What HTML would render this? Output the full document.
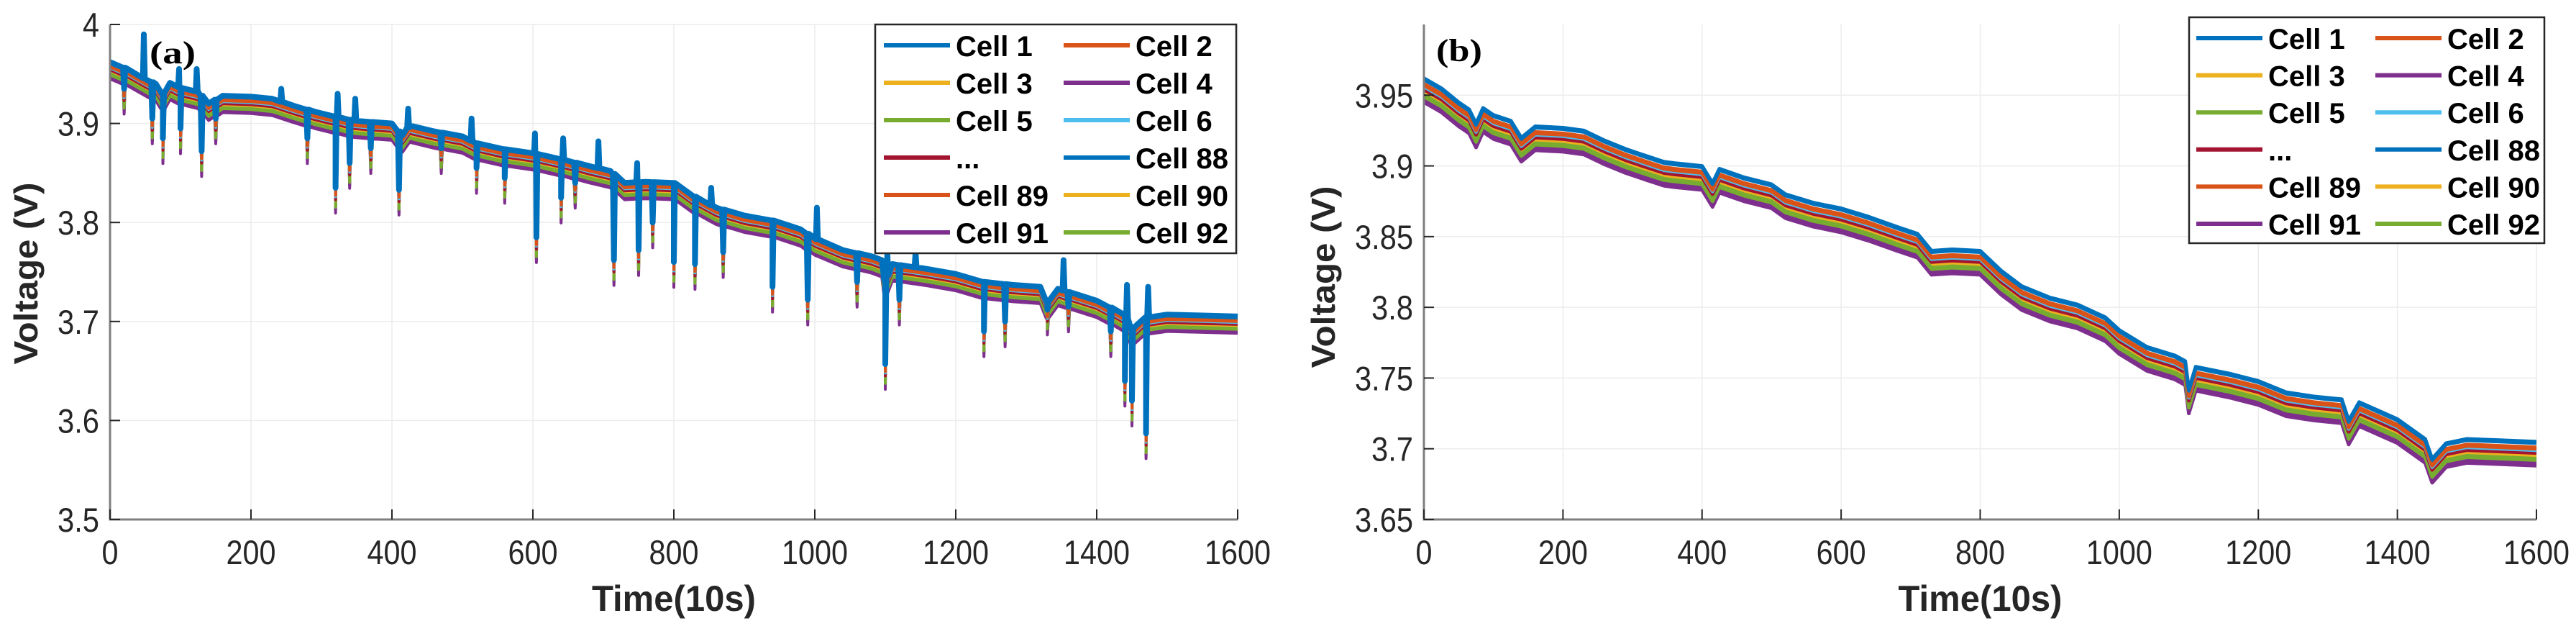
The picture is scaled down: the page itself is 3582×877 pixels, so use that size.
<!DOCTYPE html>
<html><head><meta charset="utf-8"><style>
html,body{margin:0;padding:0;background:#fff;width:3582px;height:877px;overflow:hidden}
svg text{font-family:"Liberation Sans",sans-serif}
</style></head><body>
<svg id="fig" width="3582" height="877" viewBox="0 0 3582 877" xmlns="http://www.w3.org/2000/svg"></svg>
<script>
// ---- data ----
const knotT = [0,25,50,65,75,85,100,125,140,160,200,230,260,290,320,345,360,400,415,425,460,500,520,560,600,640,680,710,730,760,800,830,860,900,940,980,1000,1040,1080,1095,1100,1110,1160,1200,1240,1280,1320,1330,1345,1400,1440,1450,1470,1500,1550,1600];
const knotV = [3.962,3.955,3.945,3.940,3.930,3.941,3.936,3.932,3.920,3.928,3.927,3.925,3.918,3.912,3.907,3.903,3.902,3.900,3.888,3.898,3.892,3.887,3.880,3.874,3.870,3.864,3.857,3.852,3.840,3.841,3.840,3.826,3.815,3.807,3.802,3.793,3.784,3.772,3.766,3.762,3.742,3.758,3.753,3.748,3.740,3.737,3.735,3.720,3.733,3.721,3.707,3.693,3.704,3.707,3.706,3.705];
const cellNames = ["Cell 1","Cell 2","Cell 3","Cell 4","Cell 5","Cell 6","...","Cell 88","Cell 89","Cell 90","Cell 91","Cell 92"];
const cellColors = ["#0072BD","#D95319","#EDB120","#7E2F8E","#77AC30","#4DBEEE","#A2142F","#0072BD","#D95319","#EDB120","#7E2F8E","#77AC30"];
const cellOffsets = [0,-0.004,-0.010,-0.015,-0.012,-0.006,-0.008,-0.001,-0.005,-0.011,-0.017,-0.013];
const spikeT = [20,60,75,100,130,150,280,320,340,370,410,470,520,560,605,640,660,715,750,770,800,830,870,940,990,1060,1100,1120,1240,1270,1330,1360,1420,1440,1450,1470];
const spikeV = [3.935,3.905,3.885,3.895,3.872,3.905,3.885,3.835,3.86,3.875,3.833,3.875,3.855,3.845,3.785,3.825,3.84,3.762,3.772,3.80,3.76,3.758,3.77,3.735,3.722,3.74,3.657,3.722,3.69,3.70,3.712,3.715,3.69,3.64,3.62,3.587];
const upT = [45,95,120,240,320,345,420,510,600,640,690,745,850,1000,1100,1140,1350,1440,1470];
const upV = [3.99,3.955,3.955,3.935,3.93,3.925,3.915,3.905,3.89,3.885,3.882,3.86,3.835,3.815,3.768,3.77,3.762,3.737,3.735];
const xTicks = [0,200,400,600,800,1000,1200,1400,1600];
const yTicksA = [3.5,3.6,3.7,3.8,3.9,4];
const yTickLabelsA = ["3.5","3.6","3.7","3.8","3.9","4"];
const yTicksB = [3.65,3.7,3.75,3.8,3.85,3.9,3.95];
const yTickLabelsB = ["3.65","3.7","3.75","3.8","3.85","3.9","3.95"];

const NS="http://www.w3.org/2000/svg";
const svg=document.getElementById('fig');
function mk(tag,attrs,parent){const e=document.createElementNS(NS,tag);for(const k in attrs)e.setAttribute(k,attrs[k]);(parent||svg).appendChild(e);return e;}

function panel(p){
  const g=mk('g',{});
  
  
  const sx=t=>p.x0+(t-0)/(1600)*(p.x1-p.x0);
  const sy=v=>p.y1-(v-p.ymin)/(p.ymax-p.ymin)*(p.y1-p.y0);
  xTicks.forEach(t=>{const l=mk('line',{x1:sx(t),x2:sx(t),y1:p.y0,y2:p.y1,stroke:'#ececec','stroke-width':1.5},g);
    
    });
  p.yt.forEach(v=>{const l=mk('line',{x1:p.x0,x2:p.x1,y1:sy(v),y2:sy(v),stroke:'#ececec','stroke-width':1.5},g);
    
    });
  const baseAt=t=>{for(let k=1;k<knotT.length;k++){if(t<=knotT[k]){const f=(t-knotT[k-1])/(knotT[k]-knotT[k-1]);return knotV[k-1]+f*(knotV[k]-knotV[k-1]);}}return knotV[knotV.length-1];};
  const order=[10,3,11,9,2,4,6,5,8,1,7,0];
  order.forEach(i=>{
    const off=cellOffsets[i];
    const events=[];
    knotT.forEach((t,k)=>events.push([t,knotV[k]+off]));
    if(p.spikes){
      spikeT.forEach((t,k)=>{const b=baseAt(t);events.push([t-1.5,b+off]);events.push([t,spikeV[k]+off*(i===0?0.3:1.5)]);events.push([t+1.5,b+off]);});
      if(i===0||i===7||i===1){upT.forEach((t,k)=>{const b=baseAt(t+3);events.push([t+1.6,b+off]);events.push([t+3,upV[k]+off]);events.push([t+4.4,b+off]);});}
    }
    events.sort((a,b)=>a[0]-b[0]);
    const pts=events.map(e=>sx(Math.max(0,Math.min(1600,e[0]))).toFixed(1)+','+sy(e[1]).toFixed(1));
    const w=(p.spikes&&i===0)?p.sw+4:p.sw;
    const pl=mk('polyline',{points:pts.join(' '),fill:'none',stroke:cellColors[i],'stroke-width':w,'stroke-linejoin':'round'},g);
    
    
  });
  const ax=mk('path',{d:`M${p.x0},${p.y0}V${p.y1}H${p.x1}`,fill:'none',stroke:'#7f7f7f','stroke-width':3},g);
  
  
  xTicks.forEach(t=>{mk('line',{x1:sx(t),x2:sx(t),y1:p.y1,y2:p.y1-14,stroke:'#262626','stroke-width':2},g);
    const tx=mk('text',{x:sx(t),y:784,'text-anchor':'middle','font-size':47,fill:'#262626',textLength:String(t).length*23,lengthAdjust:'spacingAndGlyphs'},g);
    tx.textContent=t;
    
    });
  p.yt.forEach((v,k)=>{mk('line',{x1:p.x0,x2:p.x0+14,y1:sy(v),y2:sy(v),stroke:'#262626','stroke-width':2},g);
    const s=p.yl[k];const w=s.replace('.','').length*23+(s.includes('.')?12:0);
    const tx=mk('text',{x:p.x0-15,y:sy(v)+17,'text-anchor':'end','font-size':47,fill:'#262626',textLength:w,lengthAdjust:'spacingAndGlyphs'},g);
    tx.textContent=s;
    
    });
  const xt=mk('text',{x:(p.x0+p.x1)/2,y:849,'text-anchor':'middle','font-size':50,'font-weight':'bold',fill:'#262626',textLength:228,lengthAdjust:'spacingAndGlyphs'},g);
  xt.textContent='Time(10s)';
  
  
  const yt=mk('text',{x:0,y:0,'text-anchor':'middle','font-size':46,'font-weight':'bold',fill:'#262626',textLength:253,lengthAdjust:'spacingAndGlyphs',transform:`translate(${p.ylx},${p.yly}) rotate(-90)`},g);
  yt.textContent='Voltage (V)';
  
  
  const pt=mk('text',{x:p.lblx,y:p.lbly,'font-size':44,'font-weight':'bold',fill:'#000',style:'font-family:"Liberation Serif",serif',textLength:64,lengthAdjust:'spacingAndGlyphs'},g);
  pt.textContent=p.label;
  
  
  const lg=mk('g',{},g);
  
  
  mk('rect',{x:p.lg.x,y:p.lg.y,width:p.lg.w,height:p.lg.h,fill:'#fff',stroke:'#262626','stroke-width':2.5},lg);
  cellNames.forEach((n,i)=>{
    const col=i%2,row=Math.floor(i/2);
    const ly=p.lg.r0+row*p.lg.dr;
    const lx=p.lg.c[col];
    const e=mk('g',{},lg);
    
    
    mk('line',{x1:lx,x2:lx+92,y1:ly,y2:ly,stroke:cellColors[i],'stroke-width':6},e);
    const t=mk('text',{x:lx+100,y:ly+15,'font-size':40,'font-weight':'bold',fill:'#000'},e);
    t.textContent=n;
  });
}

panel({name:'panel-a',x0:153,x1:1721,y0:34,y1:722,ymin:3.5,ymax:4,yt:yTicksA,yl:yTickLabelsA,spikes:true,sw:4,
  ylx:52,yly:380,lblx:208,lbly:88,label:'(a)',
  lg:{x:1217,y:34,w:502,h:318,r0:63,dr:52,c:[1229,1479]}});
panel({name:'panel-b',x0:1980,x1:3527,y0:34,y1:722,ymin:3.65,ymax:4.0,yt:yTicksB,yl:yTickLabelsB,spikes:false,sw:5,
  ylx:1856,yly:385,lblx:1997,lbly:85,label:'(b)',
  lg:{x:3044,y:24,w:494,h:314,r0:53,dr:51.6,c:[3054,3303]}});
</script>
</body></html>
